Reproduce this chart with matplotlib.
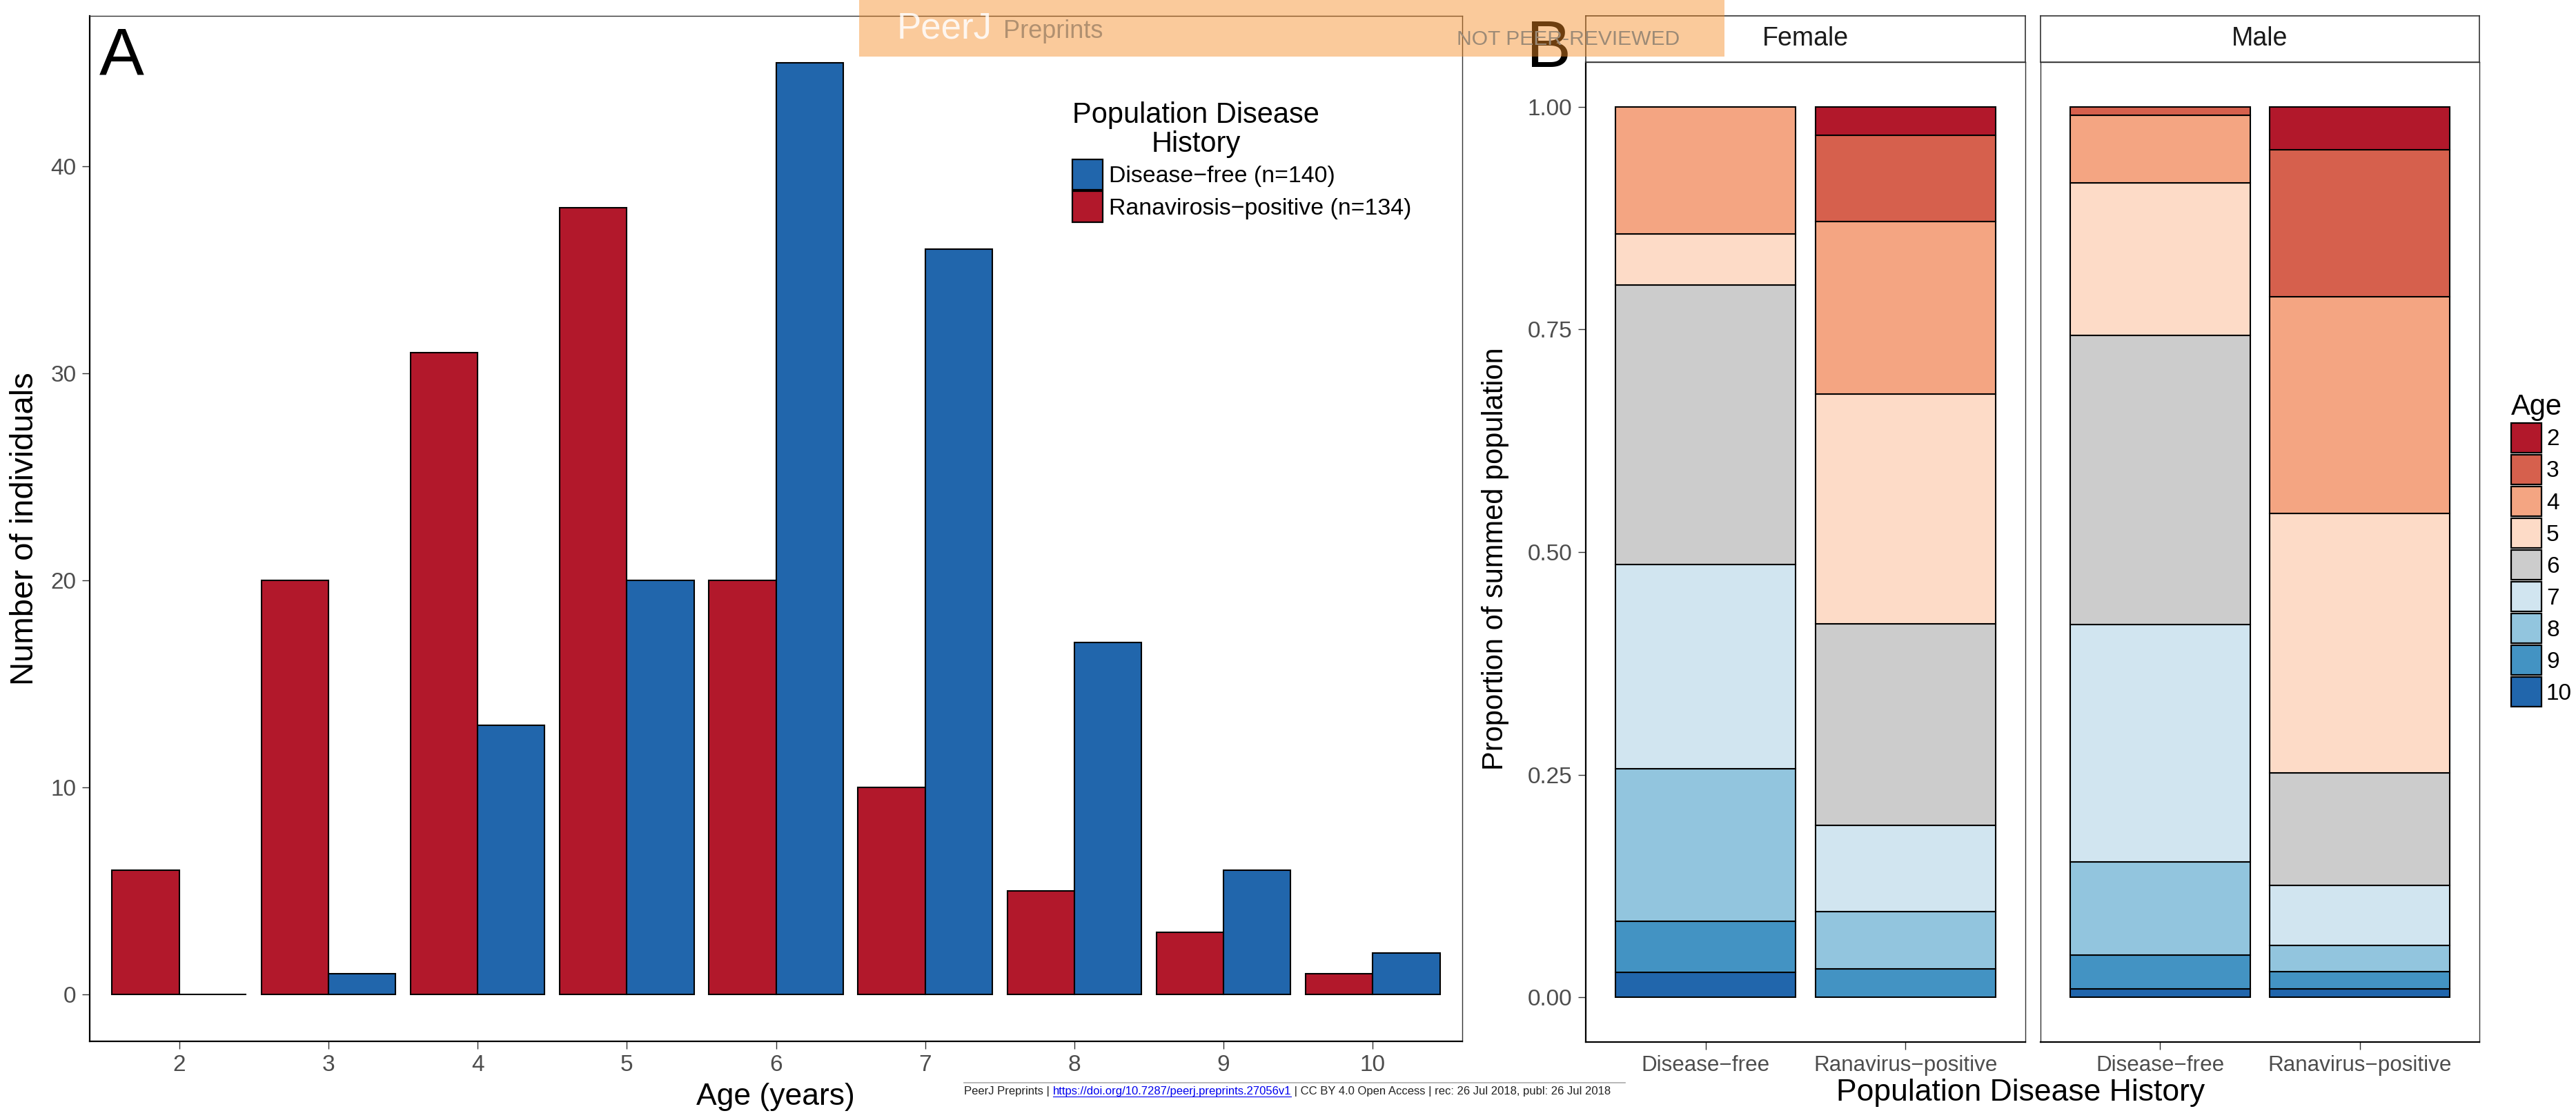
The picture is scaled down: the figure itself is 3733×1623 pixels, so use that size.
import numpy as np
import matplotlib
matplotlib.use("Agg")
import matplotlib.pyplot as plt
from matplotlib.patches import Patch, Rectangle
from matplotlib.lines import Line2D

plt.rcParams["font.family"] = ["Liberation Sans", "DejaVu Sans"]

# -----------------------
# Data (counts by age, sex and disease history)
# -----------------------
ages = [2, 3, 4, 5, 6, 7, 8, 9, 10]
history_labels = ["Disease\u2212free", "Ranavirus\u2212positive"]
female_free = [0, 0, 5, 2, 11, 8, 6, 2, 1]
female_pos = [1, 3, 6, 8, 7, 3, 2, 1, 0]
male_free = [0, 1, 8, 18, 34, 28, 11, 4, 1]
male_pos = [5, 17, 25, 30, 13, 7, 3, 2, 1]

age_colors = ["#B2182B", "#D6604D", "#F4A582", "#FDDBC7", "#CCCCCC",
              "#D1E5F0", "#92C5DE", "#4393C3", "#2166AC"]
RED = "#B2182B"
BLUE = "#2166AC"
TICK_COL = "#4D4D4D"
FRAME_COL = "#333333"

W, H, DPI = 3733, 1623, 200
fig = plt.figure(figsize=(W / DPI, H / DPI), dpi=DPI)


def box(x0, y0, x1, y1):
    # pixel box (top-down) -> figure fraction
    return [x0 / W, 1 - y1 / H, (x1 - x0) / W, (y1 - y0) / H]


def style_frame(ax, labelsize=12):
    for s in ["top", "right"]:
        ax.spines[s].set_color(FRAME_COL)
        ax.spines[s].set_linewidth(0.5)
    for s in ["left", "bottom"]:
        ax.spines[s].set_color("black")
        ax.spines[s].set_linewidth(0.8)
    ax.tick_params(direction="out", length=4, width=0.5, color=FRAME_COL,
                   labelcolor=TICK_COL, labelsize=labelsize, pad=3)


# -----------------------
# Panel A
# -----------------------
free_total = np.array(female_free) + np.array(male_free)
pos_total = np.array(female_pos) + np.array(male_pos)
x = np.array(ages)

axA = fig.add_axes(box(130, 23, 2119, 1509))
axA.bar(x - 0.225, pos_total, width=0.45, color=RED, edgecolor="black", lw=0.75)
axA.bar(x + 0.225, free_total, width=0.45, color=BLUE, edgecolor="black", lw=0.75)
axA.set_xlim(1.4, 10.6)
axA.set_ylim(-2.25, 47.25)
axA.set_xticks(ages)
axA.set_yticks([0, 10, 20, 30, 40])
style_frame(axA)

handlesA = [Patch(facecolor=BLUE, edgecolor="black", lw=0.8),
            Patch(facecolor=RED, edgecolor="black", lw=0.8)]
labelsA = ["Disease\u2212free (n=%d)" % free_total.sum(),
           "Ranavirosis\u2212positive (n=%d)" % pos_total.sum()]
legA = axA.legend(handlesA, labelsA, title="Population Disease\nHistory",
                  loc="upper left", bbox_to_anchor=(1554 / W, 1 - 147 / H),
                  bbox_transform=fig.transFigure, frameon=False, fontsize=12.2,
                  title_fontsize=15, handlelength=1.29, handleheight=1.65,
                  handletextpad=0.27, labelspacing=0.06, borderpad=0, borderaxespad=0)
legA.get_title().set_multialignment("center")
legA.get_title().set_linespacing(1.05)
legA._legend_box.align = "left"

fig.text(1124 / W, 1 - 1590 / H, "Age (years)", ha="center", va="center", fontsize=16)
fig.text(36 / W, 1 - 766 / H, "Number of individuals", ha="center", va="center",
         rotation=90, fontsize=17)
fig.text(144 / W, 1 - 108 / H, "A", ha="left", va="baseline", fontsize=35)

# -----------------------
# Panel B (faceted proportions)
# -----------------------
facets = [("Female", female_free, female_pos, (2298, 2935)),
          ("Male", male_free, male_pos, (2957, 3593))]

for i, (sex, free, pos, (x0, x1)) in enumerate(facets):
    ax = fig.add_axes(box(x0, 90, x1, 1510))
    for j, counts in enumerate([free, pos]):
        props = np.array(counts) / sum(counts)
        bottom = 0.0
        # age 10 at the bottom, age 2 on top
        for k in range(len(ages) - 1, -1, -1):
            if props[k] > 0:
                ax.bar(j + 1, props[k], bottom=bottom, width=0.9, color=age_colors[k],
                       edgecolor="black", lw=0.75)
            bottom += props[k]
    ax.set_xlim(0.4, 2.6)
    ax.set_ylim(-0.05, 1.05)
    ax.set_xticks([1, 2])
    ax.set_xticklabels(history_labels)
    style_frame(ax)
    ax.tick_params(axis="x", labelsize=11.3)
    if i == 0:
        ax.set_yticks([0, 0.25, 0.5, 0.75, 1.0])
        ax.set_yticklabels(["%.2f" % v for v in [0, 0.25, 0.5, 0.75, 1.0]])
    else:
        ax.spines["left"].set_color(FRAME_COL)
        ax.spines["left"].set_linewidth(0.5)
        ax.set_yticks([])

    strip = fig.add_axes(box(x0, 23, x1, 90))
    strip.set_xticks([])
    strip.set_yticks([])
    for s in strip.spines.values():
        s.set_color(FRAME_COL)
        s.set_linewidth(0.6)
    strip.text(0.5, 0.5, sex, ha="center", va="center", fontsize=13.5,
               color="#1A1A1A", transform=strip.transAxes)

    if i == 1:
        handlesB = [Patch(facecolor=c, edgecolor="black", lw=0.8) for c in age_colors]
        legB = ax.legend(handlesB, [str(a) for a in ages], title="Age",
                         loc="upper left", bbox_to_anchor=(3639 / W, 1 - 570 / H),
                         bbox_transform=fig.transFigure, frameon=False, fontsize=12,
                         title_fontsize=15, handlelength=1.32, handleheight=1.61,
                         handletextpad=0.21, labelspacing=0.09, borderpad=0,
                         borderaxespad=0)
        legB._legend_box.align = "left"

fig.text(2167 / W, 1 - 810 / H, "Proportion of summed population", ha="center",
         va="center", rotation=90, fontsize=15)
fig.text(2928 / W, 1 - 1583 / H, "Population Disease History", ha="center",
         va="center", fontsize=16)
fig.text(2212 / W, 1 - 97 / H, "B", ha="left", va="baseline", fontsize=35)

# -----------------------
# PeerJ banner and footer
# -----------------------
banner = Rectangle((1245 / W, 1 - 82 / H), (2499 - 1245) / W, 82 / H,
                   transform=fig.transFigure, facecolor="#F48B23", alpha=0.45,
                   edgecolor="none", zorder=10)
fig.add_artist(banner)
fig.text(1300 / W, 1 - 55 / H, "PeerJ", fontsize=19, color="white", alpha=0.85,
         va="baseline", zorder=11)
fig.text(1454 / W, 1 - 55 / H, "Preprints", fontsize=13, color="#B09070",
         va="baseline", zorder=11)
fig.text(2111 / W, 1 - 65 / H, "NOT PEER-REVIEWED", fontsize=10.8, color="#9C8A76",
         va="baseline", zorder=11)

fig.add_artist(Line2D([1397 / W, 2355 / W], [1 - 1569 / H, 1 - 1569 / H],
                      transform=fig.transFigure, color="#AAAAAA", lw=0.6))
renderer = fig.canvas.get_renderer()
footer_parts = [("PeerJ Preprints | ", "#222222"),
                ("https://doi.org/10.7287/peerj.preprints.27056v1", "#0000EE"),
                (" | CC BY 4.0 Open Access | rec: 26 Jul 2018, publ: 26 Jul 2018", "#222222")]
xpos = 1397
for txt, col in footer_parts:
    t = fig.text(xpos / W, 1 - 1586 / H, txt, fontsize=6.0, color=col, va="baseline")
    bb = t.get_window_extent(renderer)
    if col == "#0000EE":
        fig.add_artist(Line2D([bb.x0 / W, bb.x1 / W], [1 - 1589 / H, 1 - 1589 / H],
                              transform=fig.transFigure, color=col, lw=0.4))
    xpos = bb.x1

fig.savefig("out.png", dpi=DPI)
